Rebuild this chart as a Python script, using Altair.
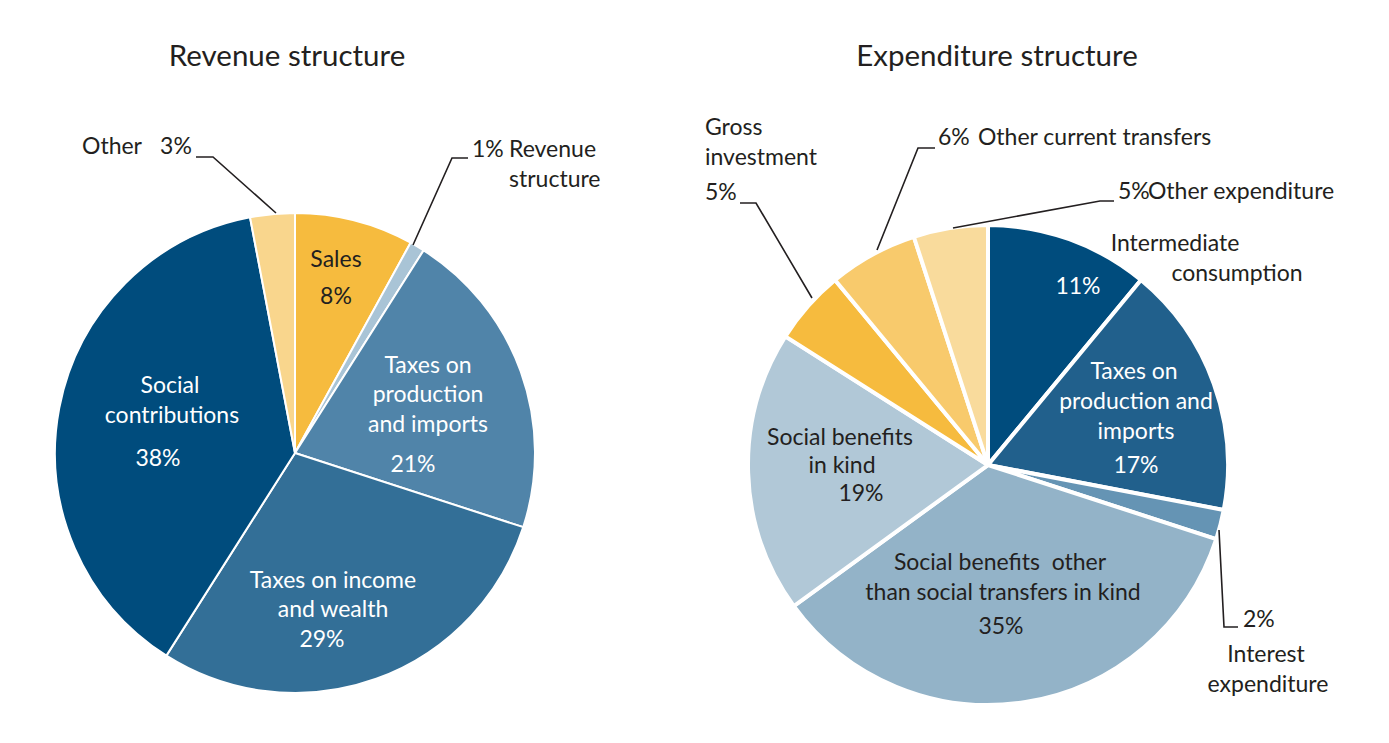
import altair as alt
import pandas as pd

# ---------------- data ----------------
rev_categories = ["Sales", "Revenue structure", "Taxes on production and imports",
                  "Taxes on income and wealth", "Social contributions", "Other"]
rev_values = [8, 1, 21, 29, 38, 3]
rev_colors = ["#f6bb3e", "#a9c4d6", "#5084a9", "#336f97", "#004c7d", "#f9d68d"]

exp_categories = ["Intermediate consumption", "Taxes on production and imports",
                  "Interest expenditure", "Social benefits other than social transfers in kind",
                  "Social benefits in kind", "Gross investment", "Other current transfers",
                  "Other expenditure"]
exp_values = [11, 17, 2, 35, 19, 5, 6, 5]
exp_colors = ["#004c7d", "#21608c", "#6594b4", "#93b3c8", "#b1c8d7",
              "#f6bb3e", "#f8ca6c", "#f9db9c"]

# ---------------- layout (pixel offsets from pie centre) ----------------
W, H = 686, 727
R = 240
FONT = "Lato"
DARK = "#231f20"
WHITE = "#ffffff"

rev_labels = [
    # text, dx, dy, color, align
    ("Sales", 41, -193, DARK, "center"),
    (f"{rev_values[0]}%", 41, -156, DARK, "center"),
    ("Taxes on", 133, -87, WHITE, "center"),
    ("production", 133, -58, WHITE, "center"),
    ("and imports", 133, -28, WHITE, "center"),
    (f"{rev_values[2]}%", 118, 12, WHITE, "center"),
    ("Social", -125, -67, WHITE, "center"),
    ("contributions", -123, -37, WHITE, "center"),
    (f"{rev_values[4]}%", -137, 6, WHITE, "center"),
    ("Taxes on income", 38, 128, WHITE, "center"),
    ("and wealth", 38, 157, WHITE, "center"),
    (f"{rev_values[3]}%", 27, 187, WHITE, "center"),
    ("Other", -183, -306, DARK, "center"),
    (f"{rev_values[5]}%", -119, -306, DARK, "center"),
    (f"{rev_values[1]}%", 177, -303, DARK, "left"),
    ("Revenue", 214, -303, DARK, "left"),
    ("structure", 214, -273, DARK, "left"),
]
rev_leaders = [
    [(-99, -296), (-82, -296), (-19, -240)],
    [(173, -295), (157, -295), (118, -208)],
]

exp_labels = [
    ("Intermediate", 187, -221, DARK, "center"),
    ("consumption", 249, -191, DARK, "center"),
    (f"{exp_values[0]}%", 90, -178, WHITE, "center"),
    ("Taxes on", 146, -93, WHITE, "center"),
    ("production and", 148, -63, WHITE, "center"),
    ("imports", 148, -33, WHITE, "center"),
    (f"{exp_values[1]}%", 148, 1, WHITE, "center"),
    ("Interest", 278, 190, DARK, "center"),
    ("expenditure", 280, 220, DARK, "center"),
    ("Social benefits\u00a0 other", 12, 98, DARK, "center"),
    ("than social transfers in kind", 15, 128, DARK, "center"),
    (f"{exp_values[3]}%", 13, 162, DARK, "center"),
    ("Social benefits", -148, -27, DARK, "center"),
    ("in kind", -146, 1, DARK, "center"),
    (f"{exp_values[4]}%", -127, 29, DARK, "center"),
    ("Gross", -283, -337, DARK, "left"),
    ("investment", -283, -307, DARK, "left"),
    (f"{exp_values[5]}%", -283, -272, DARK, "left"),
    (f"{exp_values[6]}%", -50, -327, DARK, "left"),
    ("Other current transfers", -10, -327, DARK, "left"),
    (f"{exp_values[7]}%", 130, -273, DARK, "left"),
    ("Other expenditure", 160, -273, DARK, "left"),
    (f"{exp_values[2]}%", 255, 155, DARK, "left"),
]
exp_leaders = [
    [(-248, -262), (-232, -262), (-176, -167)],
    [(-53, -317), (-70, -317), (-111, -215)],
    [(126, -264), (112, -264), (-35, -237)],
    [(231, 65), (236, 162), (250, 162)],
]


def panel(title, title_pos, cats, vals, colors, center, labels, leaders, stroke_w):
    cx, cy = center
    xs = alt.Scale(domain=[-cx, W - cx], nice=False, zero=False)
    ys = alt.Scale(domain=[-cy, H - cy], nice=False, zero=False, reverse=True)

    df = pd.DataFrame({"cat": cats, "value": vals, "order": list(range(len(cats)))})
    arcs = alt.Chart(df).mark_arc(radius=R, stroke="white", strokeWidth=stroke_w).encode(
        theta=alt.Theta("value:Q", stack=True),
        order=alt.Order("order:Q"),
        color=alt.Color("cat:N", scale=alt.Scale(domain=cats, range=colors), legend=None),
        x=alt.XDatum(0, scale=xs, axis=None),
        y=alt.YDatum(0, scale=ys, axis=None),
    )

    layers = [arcs]
    lab = pd.DataFrame(labels, columns=["t", "dx", "dy", "col", "align"])
    for (col, align), sub in lab.groupby(["col", "align"]):
        layers.append(
            alt.Chart(sub.reset_index(drop=True)).mark_text(
                font=FONT, fontSize=23, align=align, baseline="middle", color=col
            ).encode(
                x=alt.X("dx:Q", scale=xs, axis=None),
                y=alt.Y("dy:Q", scale=ys, axis=None),
                text="t:N",
            )
        )

    rows = []
    for i, pts in enumerate(leaders):
        for k, (px, py) in enumerate(pts):
            rows.append({"lid": i, "k": k, "lx": px, "ly": py})
    lines = alt.Chart(pd.DataFrame(rows)).mark_line(color=DARK, strokeWidth=1.6).encode(
        x=alt.X("lx:Q", scale=xs, axis=None),
        y=alt.Y("ly:Q", scale=ys, axis=None),
        detail="lid:N",
        order="k:Q",
    )
    layers.append(lines)

    tdf = pd.DataFrame({"t": [title], "dx": [title_pos[0]], "dy": [title_pos[1]]})
    layers.append(
        alt.Chart(tdf).mark_text(font=FONT, fontSize=29.5, align="center",
                                 baseline="middle", color=DARK).encode(
            x=alt.X("dx:Q", scale=xs, axis=None),
            y=alt.Y("dy:Q", scale=ys, axis=None),
            text="t:N",
        )
    )
    return alt.layer(*layers).properties(width=W, height=H)


left = panel("Revenue structure", (-8, -396), rev_categories, rev_values, rev_colors,
             (287, 445), rev_labels, rev_leaders, 2)
right = panel("Expenditure structure", (9, -408), exp_categories, exp_values, exp_colors,
              (294, 457), exp_labels, exp_leaders, 4)

chart = alt.hconcat(left, right, spacing=0).resolve_scale(
    color="independent", x="independent", y="independent", theta="independent"
).properties(
    padding=0, background="white"
).configure_view(stroke=None)

chart.save("out.html", embed_options={"renderer": "svg", "actions": False})
